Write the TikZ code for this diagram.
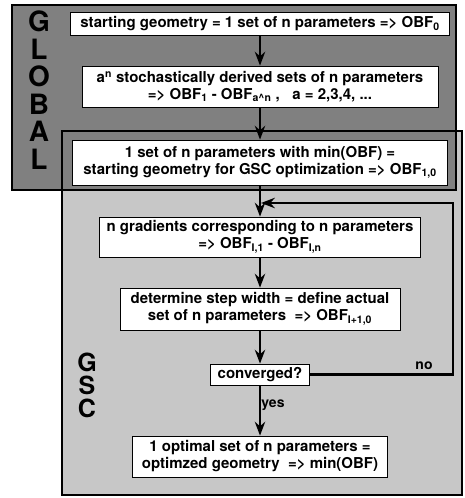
\documentclass[tikz,border=0pt]{standalone}
\usepackage{fontspec}
\setmainfont{TeX Gyre Heros}
\usetikzlibrary{arrows.meta}
\tikzset{lbl/.style={draw=none, fill=none, minimum size=0pt,
  inner sep=1pt, font=\bfseries\fontsize{14}{16}\selectfont}}

\begin{document}
\begin{tikzpicture}[x=1pt, y=-1pt, >=Stealth,
  every node/.style={draw, fill=white, align=center, inner sep=0pt,
  line width=0.8pt, font=\bfseries\fontsize{15}{17}\selectfont},
  big/.style={draw=none, fill=none, text height=19, text depth=0,
  font=\bfseries\fontsize{28}{28}\selectfont},
  flow/.style={->, line width=2.4pt}]
  \useasboundingbox (0,0) rectangle (464,498);
  % shaded regions
  \fill[black!22] (62,131) rectangle (462,495);
  \fill[black!50] (12,5) rectangle (456,190);
  \draw[line width=1.5pt] (62,131) rectangle (462,495);
  \draw[line width=2pt] (12,5) rectangle (456,190);
  % region letters
  \foreach \c [count=\i] in {G,L,O,B,A,L}
    \node[big] (glob\i) at (39, {22+(\i-1)*27.6}) {\c};
  \foreach \c [count=\i] in {G,S,C}
    \node[big, text height=17, font=\bfseries\fontsize{25}{25}\selectfont]
      (gsc\i) at (87, {363+(\i-1)*23}) {\c};
  % flow boxes
  \node[minimum width=379, minimum height=23] (start) at (260, 23.5)
    {starting geometry = 1 set of n parameters => OBF\textsubscript{0}};
  \node[minimum width=356, minimum height=41] (rand) at (260, 86.5)
    {a\textsuperscript{n} stochastically derived sets of n parameters\\
     => OBF\textsubscript{1} - OBF\textsubscript{a\textasciicircum n} ,\ \ \ a = 2,3,4, ...};
  \node[minimum width=375, minimum height=45] (minset) at (260, 162.5)
    {1 set of n parameters with min(OBF) =\\
     starting geometry for GSC optimization => OBF\textsubscript{1,0}};
  \node[minimum width=321, minimum height=40] (grad) at (260, 237)
    {n gradients corresponding to n parameters\\
     => OBF\textsubscript{I,1} - OBF\textsubscript{I,n}};
  \node[minimum width=280, minimum height=42] (step) at (260, 309)
    {determine step width = define actual\\
     set of n parameters\ \ => OBF\textsubscript{I+1,0}};
  \node[minimum width=99, minimum height=21] (conv) at (260, 374.5)
    {converged?};
  \node[minimum width=255, minimum height=41] (opt) at (260, 456.5)
    {1 optimal set of n parameters =\\
     optimzed geometry\ \ => min(OBF)};
  % connectors
  \coordinate (loop) at (453, 203);
  \coordinate (join) at (261, 203);
  \draw[flow] (start) -- (rand);
  \draw[flow] (rand) -- (minset);
  \draw[flow] (minset) -- (grad);
  \draw[flow] (grad) -- (step);
  \draw[flow] (step) -- (conv);
  \draw[flow] (conv) -- node[lbl, right, pos=0.4] {yes} (opt);
  \draw[flow] (conv.east) -| (loop) -- (join);
  \node[lbl] (nolbl) at (424, 366) {no};
\end{tikzpicture}
\end{document}
